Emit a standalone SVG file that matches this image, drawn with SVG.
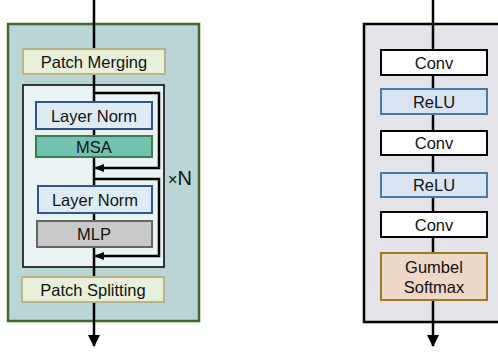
<svg xmlns="http://www.w3.org/2000/svg" width="498" height="356" viewBox="0 0 498 356">
<style>
text{font-family:"Liberation Sans",Arial,sans-serif;font-size:16.5px;fill:#111;text-anchor:middle}
.ln{stroke:#000;stroke-width:2.5;fill:none}
.patch{fill:#e9f0d9;stroke:#b8b38b;stroke-width:2}
.lnorm{fill:#deebf5;stroke:#2f5492;stroke-width:2}
.conv{fill:#fff;stroke:#000;stroke-width:2}
.relu{fill:#d8e4f2;stroke:#4a78a8;stroke-width:2}
</style>
<defs>
<marker id="ah" markerWidth="10" markerHeight="10" refX="9" refY="5" orient="auto" markerUnits="userSpaceOnUse"><path d="M0,1 L10,5 L0,9 Z" fill="#000"/></marker>
<marker id="ahb" markerWidth="12" markerHeight="14" refX="11" refY="7" orient="auto" markerUnits="userSpaceOnUse"><path d="M0,1 L12,7 L0,13 Z" fill="#000"/></marker>
</defs>
<g id="left-panel">
<rect x="8" y="24" width="191" height="297" fill="#bad5d5" stroke="#3f6a2e" stroke-width="2.5"/>
<rect x="23" y="85" width="141" height="182" fill="#e9f3f3" stroke="#000" stroke-width="1.5"/>
</g>
<g id="right-panel">
<rect x="364" y="24" width="140" height="298" fill="#e4e3ea" stroke="#000" stroke-width="2.5"/>
</g>
<g id="connectors">
<line class="ln" x1="94" y1="0" x2="94" y2="346" marker-end="url(#ahb)"/>
<polyline class="ln" points="94,93 159,93 159,168 95,168" marker-end="url(#ah)"/>
<polyline class="ln" points="94,179 159,179 159,256 95,256" marker-end="url(#ah)"/>
<line class="ln" x1="433" y1="0" x2="433" y2="346" marker-end="url(#ahb)"/>
</g>
<g id="patch-merging"><rect class="patch" x="23" y="49" width="142" height="25"/><text x="94" y="67.5">Patch Merging</text></g>
<g id="layer-norm-1"><rect class="lnorm" x="36" y="102" width="116" height="27"/><text x="94" y="121.5">Layer Norm</text></g>
<g id="msa"><rect x="36" y="136" width="116" height="21" fill="#72c2b1" stroke="#3c7a52" stroke-width="2"/><text x="94" y="152.5">MSA</text></g>
<g id="layer-norm-2"><rect class="lnorm" x="38" y="186" width="114" height="27"/><text x="95" y="205.5">Layer Norm</text></g>
<g id="mlp"><rect x="37" y="221" width="115" height="26" fill="#c9c9c9" stroke="#666" stroke-width="2"/><text x="94" y="240">MLP</text></g>
<g id="patch-splitting"><rect class="patch" x="22" y="277" width="142" height="25"/><text x="93" y="295.5">Patch Splitting</text></g>
<g id="times-n"><text x="180" y="185" style="font-size:20px"><tspan style="font-size:16px">×</tspan>N</text></g>
<g id="conv-1"><rect class="conv" x="381" y="50" width="106" height="25"/><text x="434" y="68.5">Conv</text></g>
<g id="relu-1"><rect class="relu" x="381" y="89" width="106" height="25"/><text x="434" y="107.5">ReLU</text></g>
<g id="conv-2"><rect class="conv" x="381" y="131" width="106" height="24"/><text x="434" y="149">Conv</text></g>
<g id="relu-2"><rect class="relu" x="381" y="173" width="106" height="24"/><text x="434" y="191">ReLU</text></g>
<g id="conv-3"><rect class="conv" x="381" y="212" width="106" height="25"/><text x="434" y="230.5">Conv</text></g>
<g id="gumbel-softmax"><rect x="381" y="253" width="106" height="47" fill="#f0d8c9" stroke="#a0781e" stroke-width="2"/><text x="434" y="273">Gumbel</text><text x="434" y="292.5">Softmax</text></g>
</svg>
